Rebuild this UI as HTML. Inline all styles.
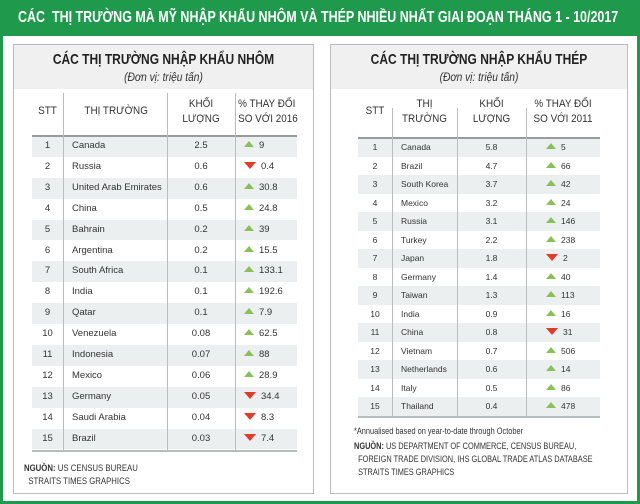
<!DOCTYPE html>
<html><head><meta charset="utf-8">
<style>
*{margin:0;padding:0;box-sizing:border-box}
body{width:640px;height:504px;overflow:hidden;background:#fff;font-family:"Liberation Sans",sans-serif;position:relative}
.abs{position:absolute}
#frame{left:0;top:0;width:640px;height:504px;border:3px solid #1f9a4c;border-top:none}
#title{left:0;top:0;width:640px;height:36px;background:#1f9a4c}
#title span{position:absolute;left:18px;top:0;color:#fff;font:bold 16px "Liberation Sans",sans-serif;line-height:36px;white-space:nowrap;transform:scaleX(0.78);transform-origin:left center}
.panel{border:1px solid #bdbdbd;background:#fff}
.phead{background:#f0f0f0;text-align:center;position:relative}
.pt{position:absolute;left:0;right:0;top:6px;font:bold 15px "Liberation Sans",sans-serif;color:#222;white-space:nowrap;transform:scaleX(0.8)}
.pu{position:absolute;left:0;right:0;top:25px;font:italic 12px "Liberation Sans",sans-serif;color:#333;transform:scaleX(0.85)}
.hd{font:11px "Liberation Sans",sans-serif;color:#333;text-align:center;line-height:15px;white-space:nowrap;transform:scaleX(0.9)}
.cell{font:9.5px "Liberation Sans",sans-serif;color:#333;white-space:nowrap}
.vl{background:#bbb;width:1px}
.up{width:0;height:0;border-left:5px solid transparent;border-right:5px solid transparent;border-bottom:6px solid #8bbf5a;display:inline-block;margin-right:5px;vertical-align:1px}
.dn{width:0;height:0;border-left:6px solid transparent;border-right:6px solid transparent;border-top:7px solid #e23b2a;display:inline-block;margin-right:5px;vertical-align:0}
.src{font:9.5px "Liberation Sans",sans-serif;color:#333;line-height:13px;white-space:nowrap;transform:scaleX(0.82);transform-origin:left top}
</style></head><body>
<div id="title" class="abs"><span>CÁC &nbsp;THỊ TRƯỜNG MÀ MỸ NHẬP KHẨU NHÔM VÀ THÉP NHIỀU NHẤT GIAI ĐOẠN THÁNG 1 - 10/2017</span></div>
<div id="frame" class="abs"></div>

<div class="abs panel" style="left:13px;top:44px;width:301px;height:450px">
  <div class="phead" style="height:44px">
    <div class="pt">CÁC THỊ TRƯỜNG NHẬP KHẨU NHÔM</div>
    <div class="pu">(Đơn vị: triệu tấn)</div>
  </div>
</div>
<div class="abs panel" style="left:330px;top:44px;width:298px;height:450px">
  <div class="phead" style="height:44px">
    <div class="pt">CÁC THỊ TRƯỜNG NHẬP KHẨU THÉP</div>
    <div class="pu">(Đơn vị: triệu tấn)</div>
  </div>
</div>
<div id="tables"></div>

<div class="abs src" style="left:24px;top:462px"><b>NGUỒN:</b> US CENSUS BUREAU<br>&nbsp;&nbsp;STRAITS TIMES GRAPHICS</div>
<div class="abs src" style="left:354px;top:425px;font-size:9px">*Annualised based on year-to-date through October</div>
<div class="abs src" style="left:354px;top:440px;font-size:9px"><b>NGUỒN:</b> US DEPARTMENT OF COMMERCE, CENSUS BUREAU,<br>&nbsp;&nbsp;FOREIGN TRADE DIVISION, IHS GLOBAL TRADE ATLAS DATABASE<br>&nbsp;&nbsp;STRAITS TIMES GRAPHICS</div>

<script>
const alMarkets=["Canada","Russia","United Arab Emirates","China","Bahrain","Argentina","South Africa","India","Qatar","Venezuela","Indonesia","Mexico","Germany","Saudi Arabia","Brazil"];
const alVolume=["2.5","0.6","0.6","0.5","0.2","0.2","0.1","0.1","0.1","0.08","0.07","0.06","0.05","0.04","0.03"];
const alChange=[9,-0.4,30.8,24.8,39,15.5,133.1,192.6,7.9,62.5,88,28.9,-34.4,-8.3,-7.4];
const stMarkets=["Canada","Brazil","South Korea","Mexico","Russia","Turkey","Japan","Germany","Taiwan","India","China","Vietnam","Netherlands","Italy","Thailand"];
const stVolume=["5.8","4.7","3.7","3.2","3.1","2.2","1.8","1.4","1.3","0.9","0.8","0.7","0.6","0.5","0.4"];
const stChange=[5,66,42,24,146,238,-2,40,113,16,-31,506,14,86,478];

const root=document.getElementById('tables');
function mk(cls,style,html){const d=document.createElement('div');d.className='abs '+cls;d.style.cssText=style;if(html!==undefined)d.innerHTML=html;root.appendChild(d);return d;}
function table(cfg){
  const {x,cols,top,rowH,headTop,vTop,markets,volume,change,heads,prefix,fs}=cfg;
  const right=cols[cols.length-1];
  heads.forEach((h,i)=>{
    const d=mk('hd',`left:${cols[i]}px;top:${headTop[i]}px;width:${cols[i+1]-cols[i]}px;`+(i==1&&prefix==='al'?'text-align:left;padding-left:18px':''),h);
    
    
  });
  markets.forEach((m,i)=>{
    const y=top+i*rowH;
    if(i%2===0){const bg=mk('',`left:${cols[0]}px;top:${y}px;width:${right-cols[0]}px;height:${rowH}px;background:#eceff0`);
      
      }
    const lh=`line-height:${rowH}px;top:${y}px;font-size:${fs}px;`;
    const c1=mk('cell',lh+`left:${cols[0]}px;width:${cols[1]-cols[0]}px;text-align:center`,String(i+1));
    
    
    const c2=mk('cell',lh+`left:${cols[1]+9}px`,m);
    
    
    const c3=mk('cell',lh+`left:${cols[2]}px;width:${cols[3]-cols[2]}px;text-align:center`,volume[i]);
    
    
    const v=change[i];
    const c4=mk('cell',lh+`left:${cols[3]+(prefix==='al'?9:20)}px`,`<span class="${v>=0?'up':'dn'}"></span>${Math.abs(v)}`);
    
    
  });
  const n=markets.length;
  const tl=mk('',`left:${cols[0]}px;top:${top-1}px;width:${right-cols[0]}px;height:2px;background:#9a9a9a`);
  
  
  const bl=mk('',`left:${cols[0]}px;top:${top+n*rowH}px;width:${right-cols[0]}px;height:2px;background:#b5bcc0`);
  
  
  for(let i=1;i<cols.length-1;i++){
    const l=mk('vl',`left:${cols[i]}px;top:${vTop}px;height:${top+n*rowH-vTop}px`);
    
    
  }
}
table({prefix:'al',cols:[32,63,167,235,297],top:136,rowH:20.9,headTop:[104,104,97,97],vTop:93,fs:9.5,
  markets:alMarkets,volume:alVolume,change:alChange,
  heads:["STT","THỊ TRƯỜNG","KHỐI<br>LƯỢNG","% THAY ĐỔI<br>SO VỚI 2016"]});
table({prefix:'st',cols:[358,392,457,526,600],top:138,rowH:18.5,headTop:[104,97,97,97],vTop:108,fs:8.5,
  markets:stMarkets,volume:stVolume,change:stChange,
  heads:["STT","THỊ<br>TRƯỜNG","KHỐI<br>LƯỢNG","% THAY ĐỔI<br>SO VỚI 2011"]});
</script>
</body></html>
